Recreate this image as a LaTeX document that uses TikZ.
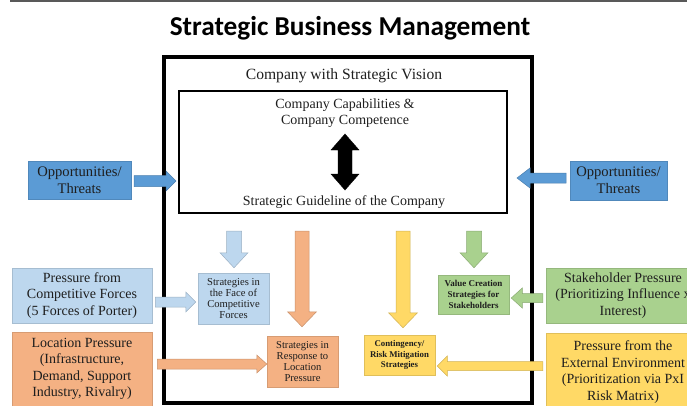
\documentclass[tikz,border=0pt]{standalone}
\usepackage{fontspec}
\setmainfont{Liberation Serif}
\newfontfamily\titlefont{Carlito}
\usetikzlibrary{calc}

\definecolor{oppblue}{HTML}{5B9BD5}
\definecolor{paleblue}{HTML}{BDD7EE}
\definecolor{peach}{HTML}{F4B183}
\definecolor{leaf}{HTML}{A9D18E}
\definecolor{sun}{HTML}{FFD966}
\definecolor{ink}{HTML}{1E1E1E}

\tikzset{
  % filled rectangle with a thin darker edge
  box/.style={rectangle, inner sep=0pt, align=center, text=ink,
    fill=#1, draw=#1!88!black, line width=0.5pt},
  bigtext/.style={font=\fontsize{14}{16.5}\selectfont},
  % block arrow: shaft half width, head half width, head length
  barrow/.style n args={3}{to path={
    ($(\tikztostart)!#1!90:(\tikztotarget)$)
    -- ($($(\tikztotarget)!#3!(\tikztostart)$)!#1!90:(\tikztotarget)$)
    -- ($($(\tikztotarget)!#3!(\tikztostart)$)!#2!90:(\tikztotarget)$)
    -- (\tikztotarget)
    -- ($($(\tikztotarget)!#3!(\tikztostart)$)!#2!-90:(\tikztotarget)$)
    -- ($($(\tikztotarget)!#3!(\tikztostart)$)!#1!-90:(\tikztotarget)$)
    -- ($(\tikztostart)!#1!-90:(\tikztotarget)$)
    -- cycle}},
  % double-headed block arrow
  dbarrow/.style n args={3}{to path={
    (\tikztostart)
    -- ($($(\tikztostart)!#3!(\tikztotarget)$)!#2!90:(\tikztotarget)$)
    -- ($($(\tikztostart)!#3!(\tikztotarget)$)!#1!90:(\tikztotarget)$)
    -- ($($(\tikztotarget)!#3!(\tikztostart)$)!#1!90:(\tikztotarget)$)
    -- ($($(\tikztotarget)!#3!(\tikztostart)$)!#2!90:(\tikztotarget)$)
    -- (\tikztotarget)
    -- ($($(\tikztotarget)!#3!(\tikztostart)$)!#2!-90:(\tikztotarget)$)
    -- ($($(\tikztotarget)!#3!(\tikztostart)$)!#1!-90:(\tikztotarget)$)
    -- ($($(\tikztostart)!#3!(\tikztotarget)$)!#1!-90:(\tikztotarget)$)
    -- ($($(\tikztostart)!#3!(\tikztotarget)$)!#2!-90:(\tikztotarget)$)
    -- cycle}},
  flow/.style={fill=#1, draw=#1!82!black, line width=0.5pt}
}

\begin{document}
\begin{tikzpicture}[x=1pt,y=-1pt]
\useasboundingbox (0,0) rectangle (687,405);

% rule along the top edge
\draw[line width=2pt, black!65] (10,1) -- (687,1);

% title
\node (title) at (350,28) {\titlefont\bfseries\fontsize{27.3}{30}\selectfont Strategic Business Management};

% company frame and strategic core
\node[draw, line width=4pt, minimum width=368pt, minimum height=346pt, inner sep=0pt] (outer) at (348,230) {};
\node[text=ink, font=\fontsize{15.6}{18}\selectfont] (vision) at (344,76) {Company with Strategic Vision};
\node[draw, line width=2pt, minimum width=328.5pt, minimum height=122pt, inner sep=0pt] (inner) at (342.75,152) {};
\node[bigtext, text=ink, align=center] (capab) at (345,113) {Company Capabilities \&\\Company Competence};
\node[bigtext, text=ink] (guide) at (344,202) {Strategic Guideline of the Company};
\coordinate (dtop) at (345,134);
\coordinate (dbot) at (345,190);
\draw[fill=black] (dtop) to[dbarrow={7pt}{14pt}{16pt}] (dbot);

% opportunities / threats
\node[box=oppblue, font=\fontsize{14.6}{17}\selectfont, minimum width=103pt, minimum height=38pt] (oppL) at (79.5,180) {Opportunities/\\Threats};
\node[box=oppblue, font=\fontsize{14.6}{17}\selectfont, minimum width=97pt, minimum height=39pt] (oppR) at (618.5,180.5) {Opportunities/\\Threats};
\coordinate (oppLs) at (134,181);
\coordinate (oppLe) at (176,181);
\coordinate (oppRs) at (566,178);
\coordinate (oppRe) at (517,178);
\draw[flow=oppblue] (oppLs) to[barrow={5.5pt}{10pt}{10pt}] (oppLe);
\draw[flow=oppblue] (oppRs) to[barrow={5pt}{10pt}{13pt}] (oppRe);

% external pressures
\node[box=paleblue, bigtext, minimum width=140pt, minimum height=55pt] (compf) at (82,295.5) {Pressure from\\Competitive Forces\\(5 Forces of Porter)};
\node[box=peach, bigtext, minimum width=140pt, minimum height=74pt] (locp) at (82,369) {Location Pressure\\(Infrastructure,\\Demand, Support\\Industry, Rivalry)};
\node[box=leaf, bigtext, minimum width=154pt, minimum height=55pt] (stake) at (623,295.5) {Stakeholder Pressure\\(Prioritizing Influence x\\Interest)};
\node[box=sun, bigtext, minimum width=154pt, minimum height=78pt] (extp) at (623,372) {Pressure from the\\External Environment\\(Prioritization via PxI\\Risk Matrix)};

% resulting strategies
\node[box=paleblue, font=\fontsize{10.6}{11}\selectfont, minimum width=71pt, minimum height=51pt] (scomp) at (233.5,298.5) {Strategies in\\the Face of\\Competitive\\Forces};
\node[box=peach, font=\fontsize{10.6}{10.7}\selectfont, minimum width=71pt, minimum height=51pt] (sloc) at (302.5,361.5) {Strategies in\\Response to\\Location\\Pressure};
\node[box=sun, font=\bfseries\fontsize{8.8}{10.5}\selectfont, minimum width=71pt, minimum height=40pt] (srisk) at (399.5,355) {Contingency/\\Risk Mitigation\\Strategies};
\node[box=leaf, font=\bfseries\fontsize{9}{10.8}\selectfont, minimum width=71pt, minimum height=39pt] (sval) at (473.5,294.5) {Value Creation\\Strategies for\\Stakeholders};

% arrows from the strategic guideline down to the strategies
\coordinate (dnA) at (234,231);
\coordinate (dnB) at (302,231);
\coordinate (dnC) at (403,231);
\coordinate (dnD) at (474,231);
\draw[flow=paleblue] (dnA) to[barrow={7.5pt}{14pt}{15pt}] ($(scomp.north)+(0.5,-5)$);
\draw[flow=peach] (dnB) to[barrow={7pt}{14.5pt}{15pt}] ($(sloc.north)+(-0.5,-9)$);
\draw[flow=sun] (dnC) to[barrow={7pt}{14.5pt}{15pt}] ($(srisk.north)+(3.5,-7)$);
\draw[flow=leaf] (dnD) to[barrow={7.5pt}{14pt}{15pt}] ($(sval.north)+(0.5,-7)$);

% arrows from the pressures to the strategies
\draw[flow=paleblue] ($(compf.east)+(3,6.5)$) to[barrow={5pt}{10pt}{10pt}] ($(scomp.west)+(-2,3.5)$);
\draw[flow=peach] ($(locp.east |- sloc.center)+(5,2.5)$) to[barrow={5pt}{9pt}{10pt}] ($(sloc.west)+(0,2.5)$);
\draw[flow=leaf] ($(stake.west |- sval.center)+(-3,3.5)$) to[barrow={4.5pt}{10pt}{11pt}] ($(sval.east)+(2,3.5)$);
\draw[flow=sun] ($(extp.west |- srisk.center)+(-3,11)$) to[barrow={4.5pt}{10pt}{10pt}] ($(srisk.east)+(2,11)$);
\end{tikzpicture}
\end{document}
